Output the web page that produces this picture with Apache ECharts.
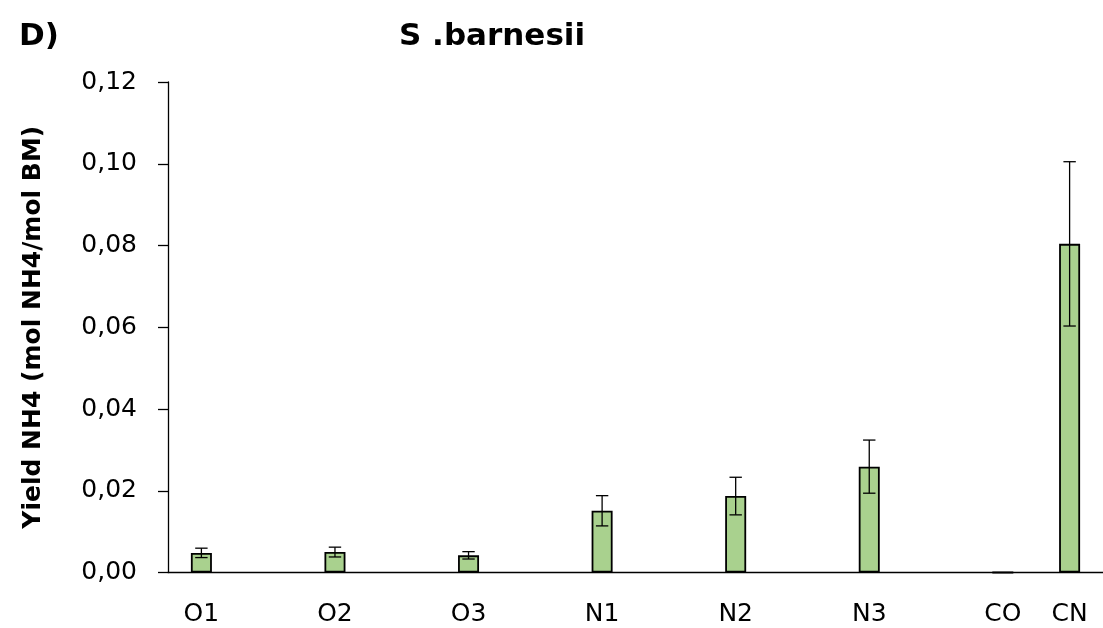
<!DOCTYPE html>
<html>
<head>
<meta charset="utf-8">
<script src="https://cdn.jsdelivr.net/npm/echarts@6/dist/echarts.min.js"></script>
<style>
html,body{margin:0;padding:0;background:#fff;}
#chart{width:1103px;height:628px;}
</style>
</head>
<body>
<div id="chart"></div>
<script>
// Category slots (blank slots keep the original chart's spacing)
const xLabels = ['O1', '', 'O2', '', 'O3', '', 'N1', '', 'N2', '', 'N3', '', 'CO', 'CN'];
const yields  = [0.0048, null, 0.0050, null, 0.0042, null, 0.0151, null, 0.0187, null, 0.0259, null, 0, 0.0804];
const errors  = [0.00115, null, 0.0012, null, 0.0009, null, 0.0037, null, 0.0046, null, 0.0065, null, 0, 0.0201];
const yMin = 0, yMax = 0.12, yStep = 0.02;
const titleText = 'S .barnesii';
const panelText = 'D)';
const yAxisTitle = 'Yield NH4 (mol NH4/mol BM)';

const errData = [];
yields.forEach((v, i) => {
  if (v !== null && errors[i]) errData.push([i, v - errors[i], v + errors[i]]);
});

const chart = echarts.init(document.getElementById('chart'), null, {renderer: 'canvas'});
const font = 'DejaVu Sans';
chart.setOption({
  backgroundColor: '#fff',
  animation: false,
  title: [
    {text: titleText, left: 399, top: 21, padding: 0,
     textStyle: {fontFamily: font, fontWeight: 'bold', fontSize: 31, color: '#000'}},
    {text: panelText, left: 19, top: 21, padding: 0,
     textStyle: {fontFamily: font, fontWeight: 'bold', fontSize: 31, color: '#000'}}
  ],
  grid: {left: 168, top: 82, width: 941.5, height: 490.5, containLabel: false},
  xAxis: {
    type: 'category',
    data: xLabels,
    axisLine: {show: true, lineStyle: {color: '#000', width: 1.3}},
    axisTick: {show: false},
    axisLabel: {interval: 0, margin: 29, fontFamily: font, fontSize: 25, color: '#000'},
    splitLine: {show: false}
  },
  yAxis: {
    type: 'value',
    min: yMin, max: yMax, interval: yStep,
    name: yAxisTitle,
    nameLocation: 'middle',
    nameGap: 122,
    nameTextStyle: {fontFamily: font, fontWeight: 'bold', fontSize: 25, color: '#000'},
    axisLine: {show: true, lineStyle: {color: '#000', width: 1.3}},
    axisTick: {show: true, length: 10, lineStyle: {color: '#000', width: 1.3}},
    axisLabel: {margin: 31, fontFamily: font, fontSize: 25, color: '#000',
      formatter: v => v.toFixed(2).replace('.', ',')},
    splitLine: {show: false}
  },
  series: [
    {
      type: 'bar',
      data: yields,
      barWidth: 21,
      itemStyle: {color: '#a9d18e', borderColor: '#000', borderWidth: 1.8},
      z: 2
    },
    {
      type: 'custom',
      data: errData,
      z: 3,
      renderItem: function (params, api) {
        const x = api.value(0);
        const pLo = api.coord([x, api.value(1)]);
        const pHi = api.coord([x, api.value(2)]);
        const hw = 6.2;
        const st = {stroke: '#000', lineWidth: 1.3};
        return {type: 'group', children: [
          {type: 'line', shape: {x1: pLo[0], y1: pLo[1], x2: pHi[0], y2: pHi[1]}, style: st},
          {type: 'line', shape: {x1: pHi[0] - hw, y1: pHi[1], x2: pHi[0] + hw, y2: pHi[1]}, style: st},
          {type: 'line', shape: {x1: pLo[0] - hw, y1: pLo[1], x2: pLo[0] + hw, y2: pLo[1]}, style: st}
        ]};
      }
    }
  ]
});
</script>
</body>
</html>
